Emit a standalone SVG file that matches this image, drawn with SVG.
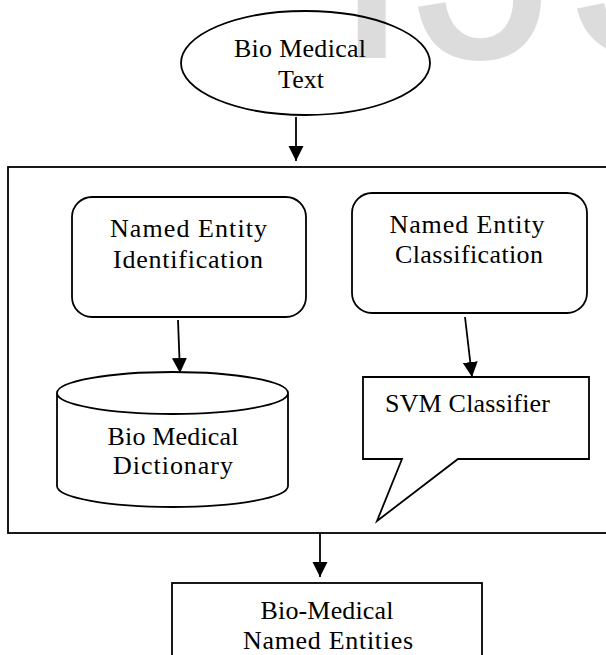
<svg xmlns="http://www.w3.org/2000/svg" width="606" height="655" viewBox="0 0 606 655">
<style>
.s{fill:none;stroke:#000;stroke-width:1.8}
.t{font-family:"Liberation Serif","Times New Roman",serif;font-size:26px;fill:#000;text-anchor:middle}
.l{stroke:#000;stroke-width:1.8;fill:none}
</style>
<defs>
<marker id="ah" markerUnits="userSpaceOnUse" markerWidth="16" markerHeight="16" refX="15" refY="7.5" orient="auto">
<path d="M0,0 L15,7.5 L0,15 Z" fill="#000"/>
</marker>
</defs>
<rect width="606" height="655" fill="#fff"/>
<text x="330" y="58" font-family="Liberation Sans, Arial, sans-serif" font-size="300" fill="#dcdcdc">IJS</text>
<g id="container">
<rect class="s" x="8" y="167" width="620" height="366"/>
</g>
<g id="bio-medical-text">
<ellipse class="s" cx="305.5" cy="63" rx="124.5" ry="52"/>
<text class="t" x="300" y="57" textLength="132">Bio Medical</text>
<text class="t" x="301" y="88">Text</text>
</g>
<g id="ne-identification">
<rect class="s" x="72" y="197" width="234" height="120" rx="20"/>
<text class="t" x="188.5" y="237" textLength="157">Named Entity</text>
<text class="t" x="188" y="268" textLength="150">Identification</text>
</g>
<g id="ne-classification">
<rect class="s" x="352" y="193" width="235" height="120" rx="20"/>
<text class="t" x="467" y="233" textLength="155">Named Entity</text>
<text class="t" x="469" y="263" textLength="148">Classification</text>
</g>
<g id="dictionary">
<path class="s" d="M57,393 A115.5,21 0 0,1 288,393 A115.5,21 0 0,1 57,393 Z M57,393 L57,486 A115.5,21 0 0,0 288,486 L288,393"/>
<text class="t" x="173" y="445" textLength="131">Bio Medical</text>
<text class="t" x="173" y="474" textLength="120">Dictionary</text>
</g>
<g id="svm-classifier">
<path class="s" d="M363,377 L589,377 L589,459 L458,459 L377,521 L402,459 L363,459 Z"/>
<text class="t" x="385" y="412" text-anchor="start" style="text-anchor:start" textLength="165">SVM Classifier</text>
</g>
<g id="output">
<rect class="s" x="172" y="583" width="310" height="100"/>
<text class="t" x="327" y="619" textLength="133">Bio-Medical</text>
<text class="t" x="328" y="649" textLength="170">Named Entities</text>
</g>
<g id="connectors">
<line class="l" x1="296" y1="117" x2="296" y2="161" marker-end="url(#ah)"/>
<line class="l" x1="178" y1="320" x2="180" y2="373" marker-end="url(#ah)"/>
<line class="l" x1="465" y1="317" x2="472" y2="377" marker-end="url(#ah)"/>
<line class="l" x1="320" y1="533" x2="320" y2="577" marker-end="url(#ah)"/>
</g>
</svg>
